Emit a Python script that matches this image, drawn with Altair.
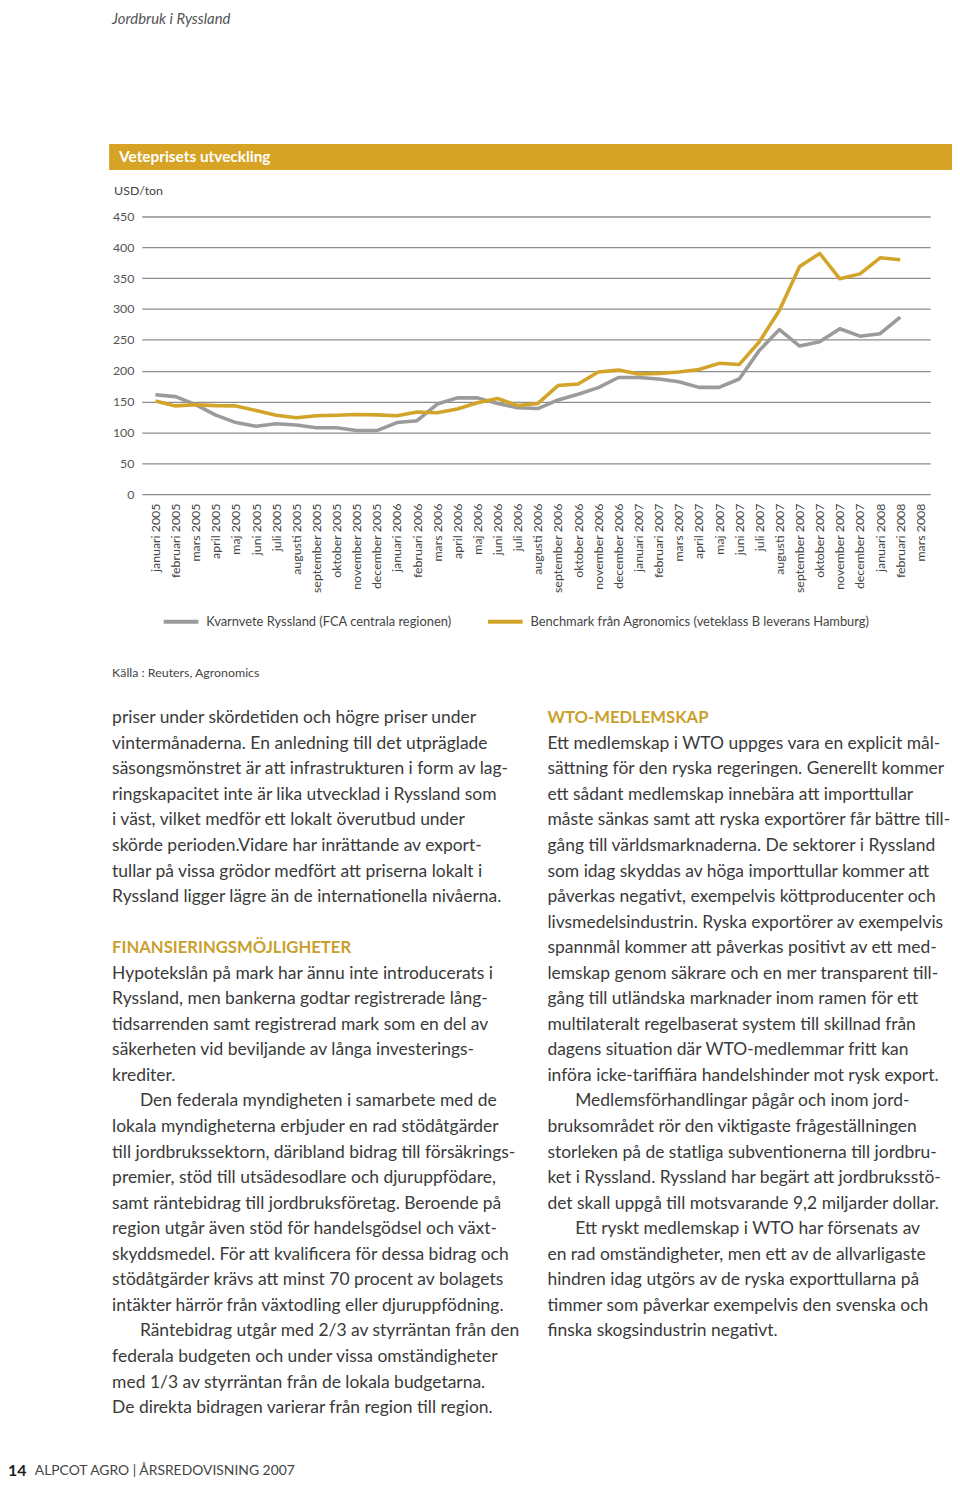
import altair as alt
import pandas as pd

MONTHS = [
    "januari 2005", "februari 2005", "mars 2005", "april 2005", "maj 2005", "juni 2005",
    "juli 2005", "augusti 2005", "september 2005", "oktober 2005", "november 2005", "december 2005",
    "januari 2006", "februari 2006", "mars 2006", "april 2006", "maj 2006", "juni 2006",
    "juli 2006", "augusti 2006", "september 2006", "oktober 2006", "november 2006", "december 2006",
    "januari 2007", "februari 2007", "mars 2007", "april 2007", "maj 2007", "juni 2007",
    "juli 2007", "augusti 2007", "september 2007", "oktober 2007", "november 2007", "december 2007",
    "januari 2008", "februari 2008", "mars 2008",
]

SERIES_GRAY = "Kvarnvete Ryssland (FCA centrala regionen)"
SERIES_GOLD = "Benchmark från Agronomics (veteklass B leverans Hamburg)"

KVARNVETE = [161, 158, 145, 128, 116, 110, 114, 112, 107.5, 107.5, 103, 103, 116, 119, 146, 156,
             156, 147, 140, 138.7, 152.7, 162, 172.6, 189, 189, 186.6, 182, 173, 173, 186.6, 233,
             266.7, 240, 247, 268, 256, 260, 287]
BENCHMARK = [151, 143, 145, 143.5, 143, 135.5, 128, 123.7, 127, 128, 129, 128.5, 127, 133, 132,
             138, 148, 155, 143.5, 147, 176, 178.5, 198, 201, 194.6, 195.7, 198, 202, 212, 210,
             247, 298, 369, 390, 349, 357, 383, 380]

Y_TICKS = [0, 50, 100, 150, 200, 250, 300, 350, 400, 450]

HEADER = "Jordbruk i Ryssland"
BANNER = "Veteprisets utveckling"
UNIT = "USD/ton"
SOURCE = "Källa : Reuters, Agronomics"
PAGE_NO = "14"
FOOTER = "ALPCOT AGRO  |  ÅRSREDOVISNING 2007"

LEFT_COL = [
    "priser under skördetiden och högre priser under",
    "vintermånaderna. En anledning till det utpräglade",
    "säsongsmönstret är att infrastrukturen i form av lag-",
    "ringskapacitet inte är lika utvecklad i Ryssland som",
    "i väst, vilket medför ett lokalt överutbud under",
    "skörde perioden.Vidare har inrättande av export-",
    "tullar på vissa grödor medfört att priserna lokalt i",
    "Ryssland ligger lägre än de internationella nivåerna.",
    "",
    "#FINANSIERINGSMÖJLIGHETER",
    "Hypotekslån på mark har ännu inte introducerats i",
    "Ryssland, men bankerna godtar registrerade lång-",
    "tidsarrenden samt registrerad mark som en del av",
    "säkerheten vid beviljande av långa investerings-",
    "krediter.",
    ">Den federala myndigheten i samarbete med de",
    "lokala myndigheterna erbjuder en rad stödåtgärder",
    "till jordbrukssektorn, däribland bidrag till försäkrings-",
    "premier, stöd till utsädesodlare och djuruppfödare,",
    "samt räntebidrag till jordbruksföretag. Beroende på",
    "region utgår även stöd för handelsgödsel och växt-",
    "skyddsmedel. För att kvalificera för dessa bidrag och",
    "stödåtgärder krävs att minst 70 procent av bolagets",
    "intäkter härrör från växtodling eller djuruppfödning.",
    ">Räntebidrag utgår med 2/3 av styrräntan från den",
    "federala budgeten och under vissa omständigheter",
    "med 1/3 av styrräntan från de lokala budgetarna.",
    "De direkta bidragen varierar från region till region.",
]

RIGHT_COL = [
    "#WTO-MEDLEMSKAP",
    "Ett medlemskap i WTO uppges vara en explicit mål-",
    "sättning för den ryska regeringen. Generellt kommer",
    "ett sådant medlemskap innebära att importtullar",
    "måste sänkas samt att ryska exportörer får bättre till-",
    "gång till världsmarknaderna. De sektorer i Ryssland",
    "som idag skyddas av höga importtullar kommer att",
    "påverkas negativt, exempelvis köttproducenter och",
    "livsmedelsindustrin. Ryska exportörer av exempelvis",
    "spannmål kommer att påverkas positivt av ett med-",
    "lemskap genom säkrare och en mer transparent till-",
    "gång till utländska marknader inom ramen för ett",
    "multilateralt regelbaserat system till skillnad från",
    "dagens situation där WTO-medlemmar fritt kan",
    "införa icke-tariffiära handelshinder mot rysk export.",
    ">Medlemsförhandlingar pågår och inom jord-",
    "bruksområdet rör den viktigaste frågeställningen",
    "storleken på de statliga subventionerna till jordbru-",
    "ket i Ryssland. Ryssland har begärt att jordbruksstö-",
    "det skall uppgå till motsvarande 9,2 miljarder dollar.",
    ">Ett ryskt  medlemskap i WTO har försenats av",
    "en rad omständigheter, men ett av de allvarligaste",
    "hindren idag utgörs av de ryska exporttullarna på",
    "timmer som påverkar exempelvis den svenska och",
    "finska skogsindustrin negativt.",
]

FONT = "Lato"
GRAY = "#9b9b9b"
GOLD = "#d3a42a"
BANNER_GOLD = "#d6a324"
HEAD_GOLD = "#c99f2e"
TEXT = "#3a3a3a"

# ---------- line data ----------
rows = []
for name, vals in ((SERIES_GRAY, KVARNVETE), (SERIES_GOLD, BENCHMARK)):
    for m, v in zip(MONTHS, vals):
        rows.append({"serie": name, "month": m, "value": v})
line_df = pd.DataFrame(rows)

lines = alt.Chart(line_df).mark_line(strokeWidth=3.6, strokeJoin="round").encode(
    x=alt.X("month:O", sort=MONTHS,
            scale=alt.Scale(domain=MONTHS, type="point", padding=0.58, align=0.58),
            axis=alt.Axis(title=None, labelAngle=270, labelPadding=9, labelFontSize=12.5,
                          labelColor="#444", labelFont=FONT, domain=False, ticks=False,
                          grid=False, labelOverlap=False, labelLimit=200)),
    y=alt.Y("value:Q", scale=alt.Scale(domain=[0, 450], nice=False, zero=True),
            axis=alt.Axis(title=None, values=Y_TICKS, labelPadding=8, labelFontSize=12.5,
                          labelColor="#555", labelFont=FONT, domain=False, ticks=False,
                          grid=True, gridColor="#8c8c8c", gridWidth=1.3, labelOverlap=False)),
    color=alt.Color("serie:N", sort=[SERIES_GRAY, SERIES_GOLD],
                    scale=alt.Scale(domain=[SERIES_GRAY, SERIES_GOLD], range=[GRAY, GOLD]),
                    legend=alt.Legend(title=None, orient="none", legendX=20, legendY=389,
                                      direction="horizontal", symbolType="stroke",
                                      symbolSize=1225, symbolStrokeWidth=4, labelOffset=6,
                                      columnPadding=28, labelFontSize=13, labelFont=FONT,
                                      labelColor="#444", labelLimit=400, padding=0)),
    order=alt.Order("serie:N", sort="descending"),
)

# ---------- body text ----------
trow = []
for ci, col in enumerate((LEFT_COL, RIGHT_COL)):
    for ri, ln in enumerate(col):
        if not ln:
            continue
        kind = "body"
        if ln.startswith("#"):
            kind, ln = "head", ln[1:]
        elif ln.startswith(">"):
            kind, ln = "indent", ln[1:]
        trow.append({"line": ln, "col": ci, "row": ri, "kind": kind})
text_df = pd.DataFrame(trow)

base_text = alt.Chart(text_df).transform_calculate(
    px="(datum.col == 0 ? -30 : 409) + (datum.kind == 'indent' ? 28 : 0)",
    py="511 + datum.row * 25.77",
)
enc = dict(x=alt.X("px:Q", scale=None, axis=None), y=alt.Y("py:Q", scale=None, axis=None),
           text="line:N")
body = base_text.transform_filter("datum.kind != 'head'").mark_text(
    align="left", baseline="alphabetic", font=FONT, fontSize=17.6, color=TEXT).encode(**enc)
heads = base_text.transform_filter("datum.kind == 'head'").mark_text(
    align="left", baseline="alphabetic", font=FONT, fontSize=16.8, fontWeight="bold",
    color=HEAD_GOLD).encode(**enc)

one = pd.DataFrame({"k": [0]})


def label(txt, x, y, size, color, weight="normal", style="normal"):
    return alt.Chart(pd.DataFrame({"t": [txt]})).mark_text(
        align="left", baseline="middle", font=FONT, fontSize=size, color=color,
        fontWeight=weight, fontStyle=style).encode(
        x=alt.value(x), y=alt.value(y), text="t:N")


banner = alt.Chart(one).mark_rect(color=BANNER_GOLD).encode(
    x=alt.value(-33), x2=alt.value(817), y=alt.value(-73), y2=alt.value(-47))

layers = [
    banner,
    lines,
    body,
    heads,
    label(HEADER, -30, -199, 15, "#555", style="italic"),
    label(BANNER, -23, -60, 15.5, "white", weight="bold"),
    label(UNIT, -28, -26, 12.5, "#444"),
    label(SOURCE, -30, 460, 12.5, "#444"),
    label(PAGE_NO, -135, 1265, 16, "#222", weight="bold"),
    label(FOOTER, -108, 1265, 14, "#444"),
]

chart = alt.layer(*layers).resolve_scale(x="independent", y="independent").properties(
    width=795, height=280,
    autosize=alt.AutoSizeParams(type="none"),
    padding={"left": 135, "top": 204, "right": 22, "bottom": 992},
).configure(font=FONT, background="white").configure_view(stroke="transparent")

chart.save("out.html", embed_options={"renderer": "svg", "actions": False})
